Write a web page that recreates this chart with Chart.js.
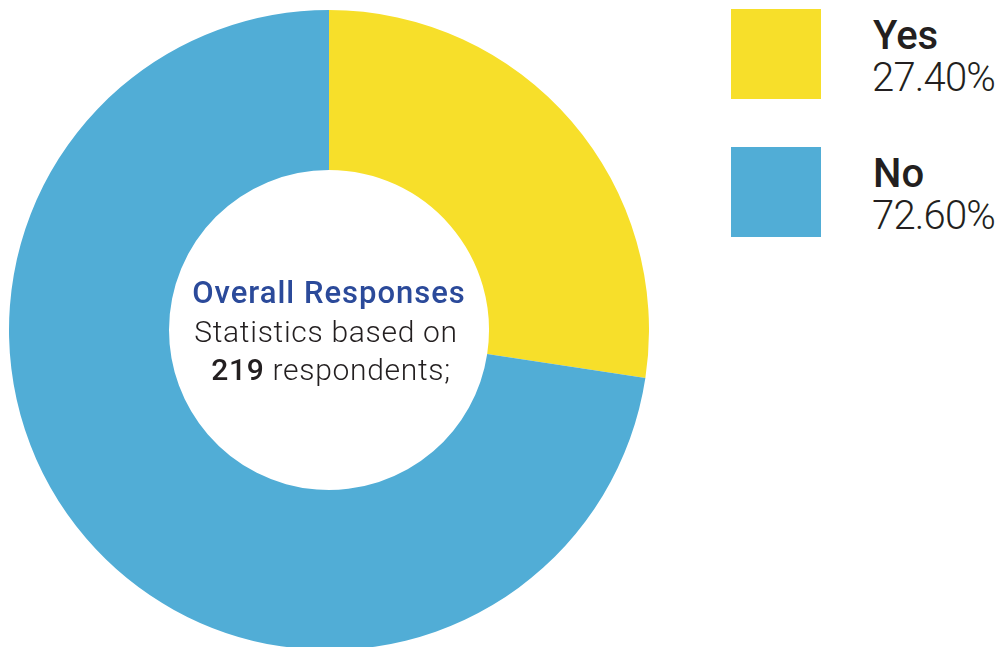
<!DOCTYPE html>
<html>
<head>
<meta charset="utf-8">
<script src="https://cdn.jsdelivr.net/npm/chart.js@4"></script>
<style>
  html, body { margin: 0; padding: 0; background: #fff; overflow: hidden; }
  body { width: 1000px; height: 647px; position: relative; font-family: Roboto, "Noto Sans", sans-serif; }
  #wrap { position: absolute; left: 9px; top: 10px; width: 640px; height: 640px; }
  #legend { position: absolute; left: 731px; top: 9px; }
  .item { position: relative; height: 90px; margin-bottom: 48px; }
  .swatch { position: absolute; left: 0; top: 0; width: 90px; height: 90px; }
  .name { position: absolute; left: 142px; top: 7px; font-size: 40px; font-weight: 500; color: #231f20; line-height: 1; }
  .pct { position: absolute; left: 141px; top: 49px; font-size: 40px; font-weight: 300; color: #231f20; line-height: 1; letter-spacing: -0.8px; }
</style>
</head>
<body>
<div id="wrap"><canvas id="donut" width="640" height="640"></canvas></div>
<div id="legend"></div>
<script>
const labels = ['Yes', 'No'];
const shares = [27.40, 72.60];
const colors = ['#f7df2a', '#51add6'];
const respondents = 219;

// legend on the right: swatch, answer, share
const legend = document.getElementById('legend');
labels.forEach(function(label, i) {
    const item = document.createElement('div');
    item.className = 'item';
    item.innerHTML = '<div class="swatch" style="background:' + colors[i] + '"></div>' +
        '<div class="name">' + label + '</div>' +
        '<div class="pct">' + shares[i].toFixed(2) + '%</div>';
    legend.appendChild(item);
});

// text in the hole of the donut
const centerText = {
    id: 'centerText',
    afterDraw: function(chart) {
        const arc = chart.getDatasetMeta(0).data[0];
        const ctx = chart.ctx;
        const cx = arc.x, cy = arc.y;
        ctx.save();
        ctx.textBaseline = 'alphabetic';
        ctx.textAlign = 'center';
        ctx.letterSpacing = '1px';
        ctx.fillStyle = '#2b4a9a';
        ctx.font = '500 31px Roboto';
        ctx.fillText('Overall Responses', cx, cy - 27);
        ctx.letterSpacing = '0.7px';
        ctx.fillStyle = '#231f20';
        ctx.font = '300 30px Roboto';
        ctx.fillText('Statistics based on', cx - 3, cy + 12);

        const num = String(respondents);
        const rest = ' respondents;';
        ctx.font = '500 30px Roboto';
        const w1 = ctx.measureText(num).width;
        ctx.font = '300 30px Roboto';
        const w2 = ctx.measureText(rest).width;
        let x = cx - (w1 + w2) / 2 + 2;
        ctx.textAlign = 'left';
        ctx.font = '500 30px Roboto';
        ctx.fillText(num, x, cy + 50);
        ctx.font = '300 30px Roboto';
        ctx.fillText(rest, x + w1, cy + 50);
        ctx.restore();
    }
};

new Chart(document.getElementById('donut').getContext('2d'), {
    type: 'doughnut',
    data: {
        labels: labels,
        datasets: [{
            data: shares,
            backgroundColor: colors,
            borderWidth: 0
        }]
    },
    options: {
        responsive: false,
        animation: false,
        cutout: '50%',
        layout: { padding: 0 },
        plugins: {
            legend: { display: false },
            tooltip: { enabled: false }
        }
    },
    plugins: [centerText]
});
</script>
</body>
</html>
